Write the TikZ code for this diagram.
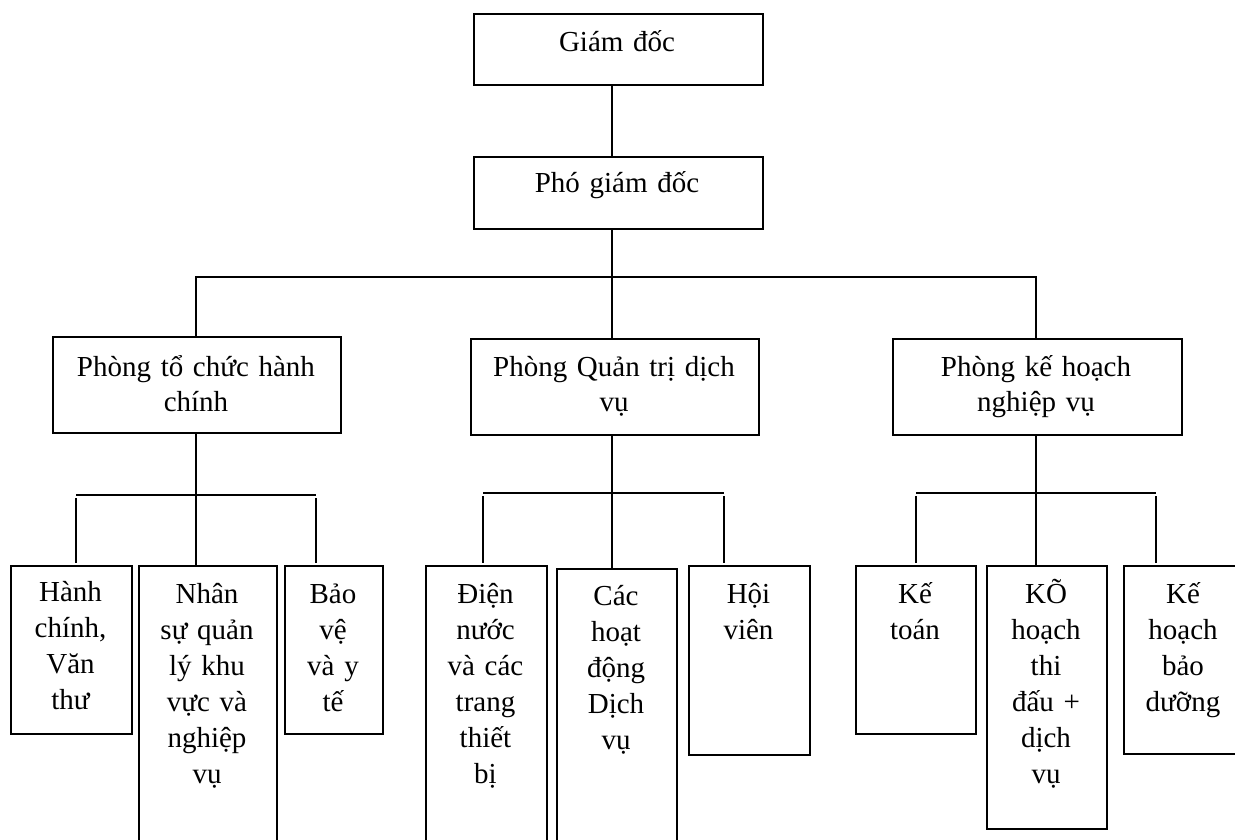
\documentclass[tikz,border=0pt]{standalone}
\usepackage{fontspec}
\setmainfont{Liberation Serif}
\begin{document}
\begin{tikzpicture}[x=1pt,y=-1pt,
  box/.style={draw=black,line width=1.8pt,fill=white,inner sep=0pt,anchor=north west},
  lbl/.style={inner sep=0pt,align=center,anchor=base,font=\fontsize{29}{36}\selectfont},
  lblmid/.style={lbl,font=\fontsize{29}{35}\selectfont},
  wire/.style={draw=black,line width=1.8pt}]
\path[use as bounding box,clip] (0,0) rectangle (1235,840);

% ---- top level ----
\node[box,minimum width=289pt,minimum height=71pt] (gd) at (473,13) {};
\node[lbl,text width=280pt] (gdt) at (617,52) {Giám đốc};
\node[box,minimum width=289pt,minimum height=72pt] (pgd) at (473,156) {};
\node[lbl,text width=280pt] (pgdt) at (617,193) {Phó giám đốc};

% ---- departments ----
\node[box,minimum width=288pt,minimum height=96pt] (ptc) at (52,336) {};
\node[lblmid,text width=280pt] (ptct) at (196,376) {Phòng tổ chức hành\\chính};
\node[box,minimum width=288pt,minimum height=96pt] (pqt) at (470,338) {};
\node[lblmid,text width=280pt] (pqtt) at (614,376) {Phòng Quản trị dịch\\vụ};
\node[box,minimum width=289pt,minimum height=96pt] (pkh) at (892,338) {};
\node[lblmid,text width=280pt] (pkht) at (1036,376) {Phòng kế hoạch\\nghiệp vụ};

% ---- units ----
\node[box,minimum width=121pt,minimum height=168pt] (a1) at (10,565) {};
\node[lbl,text width=118pt] (a1t) at (70.5,601) {Hành\\chính,\\Văn\\thư};
\node[box,minimum width=138pt,minimum height=300pt] (a2) at (138,565) {};
\node[lbl,text width=135pt] (a2t) at (207,603) {Nhân\\sự quản\\lý khu\\vực và\\nghiệp\\vụ};
\node[box,minimum width=98pt,minimum height=168pt] (a3) at (284,565) {};
\node[lbl,text width=95pt] (a3t) at (333,603) {Bảo\\vệ\\và y\\tế};

\node[box,minimum width=121pt,minimum height=300pt] (b1) at (425,565) {};
\node[lbl,text width=118pt] (b1t) at (485.5,603) {Điện\\nước\\và các\\trang\\thiết\\bị};
\node[box,minimum width=120pt,minimum height=300pt] (b2) at (556,568) {};
\node[lbl,text width=117pt] (b2t) at (616,605) {Các\\hoạt\\động\\Dịch\\vụ};
\node[box,minimum width=121pt,minimum height=189pt] (b3) at (688,565) {};
\node[lbl,text width=118pt] (b3t) at (748.5,603) {Hội\\viên};

\node[box,minimum width=120pt,minimum height=168pt] (c1) at (855,565) {};
\node[lbl,text width=117pt] (c1t) at (915,603) {Kế\\toán};
\node[box,minimum width=120pt,minimum height=263pt] (c2) at (986,565) {};
\node[lbl,text width=117pt] (c2t) at (1046,603) {KÕ\\hoạch\\thi\\đấu +\\dịch\\vụ};
\node[box,minimum width=120pt,minimum height=188pt] (c3) at (1123,565) {};
\node[lbl,text width=117pt] (c3t) at (1183,603) {Kế\\hoạch\\bảo\\dưỡng};

% ---- junction points ----
\coordinate (bus) at (612,277);
\coordinate (busA) at (196,495);
\coordinate (busB) at (612,493);
\coordinate (busC) at (1036,493);
\coordinate (a1top) at (76,563);
\coordinate (a3top) at (316,563);
\coordinate (b1top) at (483,563);
\coordinate (b3top) at (724,563);
\coordinate (c1top) at (916,563);
\coordinate (c3top) at (1156,563);

% ---- connectors ----
\draw[wire] (gd.south -| bus) -- (pgd.north -| bus);
\draw[wire] (pgd.south -| bus) -- (bus);
\draw[wire] (ptc.north -| busA) |- (bus) -| (pkh.north -| busC);
\draw[wire] (bus) -- (pqt.north -| bus);

\draw[wire] (ptc.south -| busA) -- (a2.north -| busA);
\draw[wire] ([yshift=-3pt]a1top |- busA) -- (a1top);
\draw[wire] ([yshift=-3pt]a3top |- busA) -- (a3top);
\draw[wire] (a1top |- busA) -- (a3top |- busA);

\draw[wire] (pqt.south -| busB) -- (b2.north -| busB);
\draw[wire] ([yshift=-3pt]b1top |- busB) -- (b1top);
\draw[wire] ([yshift=-3pt]b3top |- busB) -- (b3top);
\draw[wire] (b1top |- busB) -- (b3top |- busB);

\draw[wire] (pkh.south -| busC) -- (c2.north -| busC);
\draw[wire] ([yshift=-3pt]c1top |- busC) -- (c1top);
\draw[wire] ([yshift=-3pt]c3top |- busC) -- (c3top);
\draw[wire] (c1top |- busC) -- (c3top |- busC);
\end{tikzpicture}
\end{document}
